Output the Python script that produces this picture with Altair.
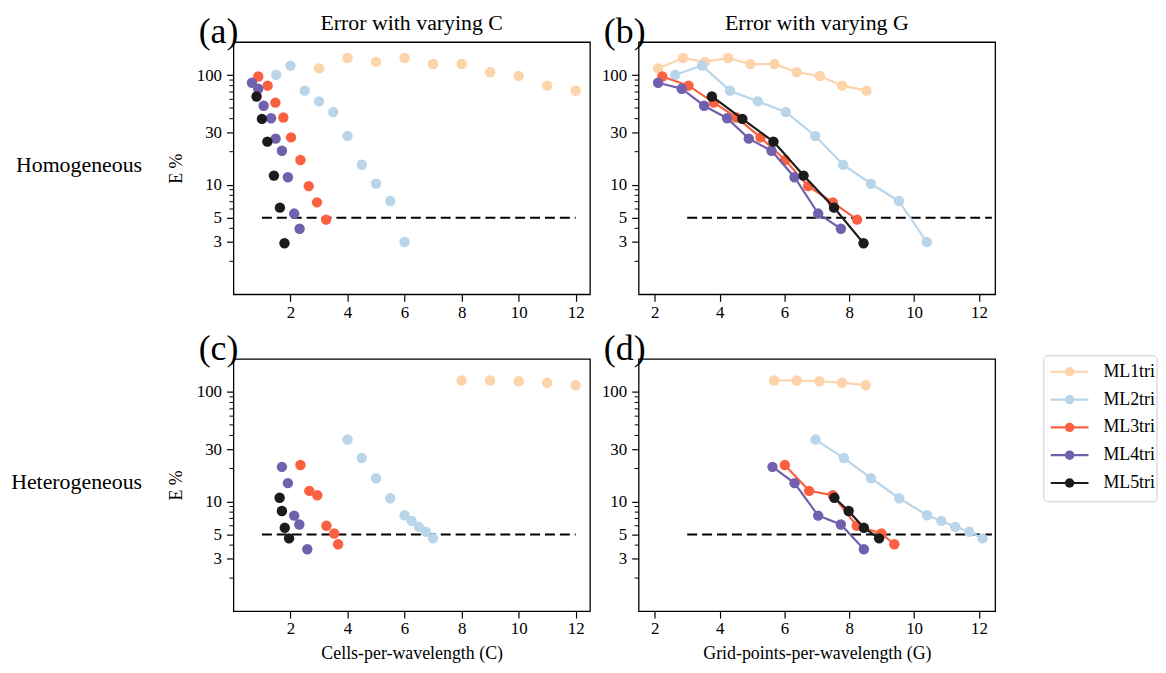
import altair as alt
import pandas as pd

FONT = "Liberation Serif"

models = ["ML1tri", "ML2tri", "ML3tri", "ML4tri", "ML5tri"]
colors = ["#fdd3aa", "#b9d5ea", "#fb6040", "#7160ad", "#1b1b1b"]

# ---- Homogeneous: cells-per-wavelength (C) and grid-points-per-wavelength (G)
ML1_homo_C = [3, 4, 5, 6, 7, 8, 9, 10, 11, 12]
ML1_homo_G = [2.10, 2.87, 3.55, 4.26, 4.95, 5.69, 6.38, 7.09, 7.78, 8.53]
ML1_homo_E = [115, 143, 132, 143, 126, 126, 106, 98, 80, 72]

ML2_homo_C = [1.5, 2, 2.5, 3, 3.5, 4, 4.5, 5, 5.5, 6]
ML2_homo_G = [2.63, 3.46, 4.32, 5.18, 6.04, 6.95, 7.81, 8.67, 9.53, 10.39]
ML2_homo_E = [100.7, 122, 72, 57.5, 46, 27.8, 15.2, 10.2, 7.1, 3.0]

ML3_homo_C = [0.87, 1.2, 1.47, 1.75, 2.02, 2.35, 2.64, 2.93, 3.25]
ML3_homo_G = [2.23, 3.04, 3.82, 4.52, 5.26, 6.02, 6.73, 7.49, 8.24]
ML3_homo_E = [97, 80, 56, 41, 27, 16.8, 9.7, 6.9, 4.8]

ML4_homo_C = [0.65, 0.87, 1.06, 1.32, 1.48, 1.70, 1.91, 2.13, 2.32]
ML4_homo_G = [2.10, 2.83, 3.52, 4.23, 4.90, 5.60, 6.31, 7.04, 7.74]
ML4_homo_E = [85, 75, 52.5, 40.4, 26.3, 20.4, 11.7, 5.45, 3.96]

ML5_homo_C = [0.81, 1.0, 1.19, 1.42, 1.63, 1.79]
ML5_homo_G = [3.76, 4.70, 5.66, 6.59, 7.53, 8.44]
ML5_homo_E = [63.8, 39.8, 24.7, 12.1, 6.17, 2.92]

# ---- Heterogeneous
ML1_het_C = [8, 9, 10, 11, 12]
ML1_het_G = [5.68, 6.38, 7.08, 7.78, 8.51]
ML1_het_E = [127, 127, 125, 121, 115]

ML2_het_C = [4, 4.5, 5, 5.5, 6, 6.25, 6.5, 6.75, 7]
ML2_het_G = [6.96, 7.83, 8.67, 9.54, 10.40, 10.84, 11.27, 11.70, 12.11]
ML2_het_E = [36.7, 24.9, 16.3, 10.7, 7.48, 6.65, 5.87, 5.3, 4.61]

ML3_het_C = [2.35, 2.66, 2.94, 3.26, 3.53, 3.67]
ML3_het_G = [6.01, 6.76, 7.49, 8.23, 8.99, 9.39]
ML3_het_E = [21.5, 12.5, 11.4, 6.0, 5.1, 4.07]

ML4_het_C = [1.70, 1.91, 2.13, 2.31, 2.59]
ML4_het_G = [5.63, 6.31, 7.04, 7.74, 8.45]
ML4_het_E = [20.7, 14.7, 7.43, 6.17, 3.67]

ML5_het_C = [1.62, 1.70, 1.80, 1.95]
ML5_het_G = [7.54, 7.98, 8.45, 8.92]
ML5_het_E = [10.8, 8.18, 5.75, 4.61]

threshold = [5, 5]
dash_C = [1, 12]
dash_G = [3, 12.4]

x_ticks = [2, 4, 6, 8, 10, 12]
y_ticks = [3, 5, 10, 30, 100]
y_minor = [2, 4, 6, 7, 8, 9, 20, 40, 50, 60, 70, 80, 90]
C_domain = [0, 12.5]
G_domain = [1.5, 12.5]
E_domain = [1, 200]

W, H = 359, 254

color_scale = alt.Scale(domain=models, range=colors)


def series(xs_list, es_list):
    frames = []
    for m, xs, es in zip(models, xs_list, es_list):
        frames.append(pd.DataFrame({"x": xs, "E": es, "model": m}))
    return frames


def text_layer(txt, size, x, y, align="left", baseline="alphabetic"):
    return alt.Chart(pd.DataFrame({"t": [txt]})).mark_text(
        font=FONT, fontSize=size, color="black", align=align, baseline=baseline
    ).encode(text="t:N", x=alt.value(x), y=alt.value(y))


def panel(frames, xdom, letter, top_title, row_label, ytitle, xtitle, lines, dash_x):
    xsc = alt.Scale(domain=xdom, nice=False, zero=False)
    ysc = alt.Scale(type="log", domain=E_domain, nice=False)
    xax = alt.Axis(values=x_ticks, format="d", grid=False, domain=False,
                   tickSize=7, tickWidth=1.2, tickColor="black",
                   labelFont=FONT, labelFontSize=17, labelColor="black", labelPadding=3,
                   titleFont=FONT, titleFontSize=18, titleFontWeight="normal",
                   titleColor="black", titlePadding=8)
    yax = alt.Axis(values=y_ticks, format="d", grid=False, domain=False,
                   tickSize=7, tickWidth=1.2, tickColor="black",
                   labelFont=FONT, labelFontSize=17, labelColor="black", labelPadding=5,
                   titleFont=FONT, titleFontSize=18, titleFontWeight="normal",
                   titleColor="black", titlePadding=11)
    xenc = alt.X("x:Q", scale=xsc, axis=xax, title=xtitle)
    yenc = alt.Y("E:Q", scale=ysc, axis=yax, title=ytitle)

    layers = []
    dash = alt.Chart(pd.DataFrame({"x": dash_x, "E": threshold})).mark_line(
        color="black", strokeDash=[10, 5], strokeWidth=2
    ).encode(x=xenc, y=yenc)
    layers.append(dash)
    for df in frames:
        base = alt.Chart(df).encode(
            x=xenc, y=yenc,
            color=alt.Color("model:N", scale=color_scale, legend=None),
        )
        if lines:
            layers.append(base.mark_line(strokeWidth=2.2))
        layers.append(base.mark_circle(size=110, opacity=1))
    minor = alt.Chart(pd.DataFrame({"E": y_minor})).mark_rule(
        color="black", strokeWidth=1
    ).encode(y=yenc, x=alt.value(0), x2=alt.value(-4))
    layers.append(minor)
    layers.append(text_layer(letter, 36, -35, 1))
    if top_title:
        layers.append(text_layer(top_title, 22, W / 2, -12, align="center"))
    if row_label:
        layers.append(text_layer(row_label, 22, -92, 131, align="right"))
    return alt.layer(*layers).properties(
        width=W, height=H,
        view=alt.ViewBackground(stroke="black", strokeWidth=1.3, fill="white"),
    )


pa = panel(series([ML1_homo_C, ML2_homo_C, ML3_homo_C, ML4_homo_C, ML5_homo_C],
                  [ML1_homo_E, ML2_homo_E, ML3_homo_E, ML4_homo_E, ML5_homo_E]),
           C_domain, "(a)", "Error with varying C", "Homogeneous", "E %", None, False, dash_C)
pb = panel(series([ML1_homo_G, ML2_homo_G, ML3_homo_G, ML4_homo_G, ML5_homo_G],
                  [ML1_homo_E, ML2_homo_E, ML3_homo_E, ML4_homo_E, ML5_homo_E]),
           G_domain, "(b)", "Error with varying G", None, None, None, True, dash_G)
pc = panel(series([ML1_het_C, ML2_het_C, ML3_het_C, ML4_het_C, ML5_het_C],
                  [ML1_het_E, ML2_het_E, ML3_het_E, ML4_het_E, ML5_het_E]),
           C_domain, "(c)", None, "Heterogeneous", "E %", "Cells-per-wavelength (C)", False, dash_C)
pd_ = panel(series([ML1_het_G, ML2_het_G, ML3_het_G, ML4_het_G, ML5_het_G],
                   [ML1_het_E, ML2_het_E, ML3_het_E, ML4_het_E, ML5_het_E]),
            G_domain, "(d)", None, None, None, "Grid-points-per-wavelength (G)", True, dash_G)

# ---- legend panel
LW, LH = 114, 144
leg_df = pd.DataFrame({"model": models})
leg_box = alt.Chart(pd.DataFrame({"t": [""]})).mark_rect(
    fill="white", stroke="#cccccc", strokeWidth=1, cornerRadius=4
).encode(x=alt.value(0), x2=alt.value(LW), y=alt.value(-3), y2=alt.value(LH))
leg_y = alt.Y("model:N", scale=alt.Scale(type="point", domain=models, range=[13, 125], padding=0), axis=None)
leg_base = alt.Chart(leg_df).encode(
    y=leg_y, color=alt.Color("model:N", scale=color_scale, legend=None)
)
leg_line = leg_base.mark_rule(strokeWidth=2.2).encode(x=alt.value(7), x2=alt.value(45))
leg_pt = leg_base.mark_circle(size=90, opacity=1).encode(x=alt.value(26))
leg_txt = alt.Chart(leg_df).mark_text(
    font=FONT, fontSize=18, color="black", align="left", baseline="middle"
).encode(y=leg_y, x=alt.value(60), text="model:N")
legend_panel = alt.layer(leg_box, leg_line, leg_pt, leg_txt).properties(
    width=LW, height=LH,
    view=alt.ViewBackground(strokeOpacity=0, fillOpacity=0),
)

placeholder = alt.Chart(pd.DataFrame({"t": [""]})).mark_text().encode(text="t:N").properties(
    width=LW, height=H, view=alt.ViewBackground(strokeOpacity=0, fillOpacity=0)
)

chart = alt.concat(
    pa, pb, placeholder, pc, pd_, legend_panel,
    columns=3, spacing={"row": 65, "column": 49}, bounds="flush", align="each",
).properties(
    padding={"left": 2, "top": 1, "right": 0, "bottom": 0},
    background="white",
)

chart.save("out.html", embed_options={"renderer": "svg", "actions": False})
